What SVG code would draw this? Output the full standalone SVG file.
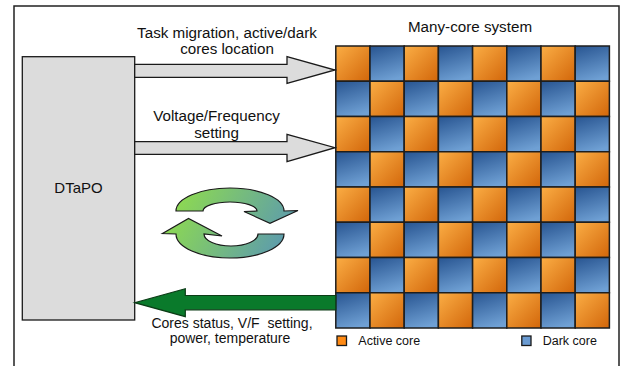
<svg xmlns="http://www.w3.org/2000/svg" width="621" height="366" viewBox="0 0 621 366">
<style>
text{font-family:"Liberation Sans",Arial,sans-serif;fill:#111;}
.t15{font-size:15.2px;text-anchor:middle;}
.t14{font-size:14px;text-anchor:middle;white-space:pre;}
.leg{font-size:12.5px;}
.o{fill:url(#gO);stroke:#1e1e1e;stroke-width:1.5;}
.b{fill:url(#gB);stroke:#1e1e1e;stroke-width:1.5;}
.gray{fill:#dcdcdc;stroke:#1a1a1a;stroke-width:1.3;}
</style>
<defs>
<linearGradient id="gO" x1="0" y1="0" x2="1" y2="1">
<stop offset="0" stop-color="#fbae45"/>
<stop offset="1" stop-color="#d2660a"/>
</linearGradient>
<linearGradient id="gB" x1="0.2" y1="0" x2="0.5" y2="1">
<stop offset="0" stop-color="#2b5894"/>
<stop offset="1" stop-color="#6fa0d4"/>
</linearGradient>
<linearGradient id="gC" gradientUnits="userSpaceOnUse" x1="180" y1="200" x2="285" y2="255">
<stop offset="0" stop-color="#8cd853"/>
<stop offset="1" stop-color="#5a98b2"/>
</linearGradient>
</defs>
<rect width="621" height="366" fill="#fff"/>
<path d="M14,366 V6 H619 V366" fill="none" stroke="#222" stroke-width="1.5"/>

<g id="dtapo">
<rect x="22.3" y="56.7" width="112.4" height="263.3" class="gray"/>
<text x="78.5" y="193.3" class="t15" style="font-size:15px">DTaPO</text>
</g>

<g id="manycore">
<text x="470" y="32.3" class="t15">Many-core system</text>
<g id="grid">
<rect class="o" x="335.8" y="46" width="34.2" height="35.25"/>
<rect class="b" x="370" y="46" width="34.2" height="35.25"/>
<rect class="o" x="404.2" y="46" width="34.2" height="35.25"/>
<rect class="b" x="438.4" y="46" width="34.2" height="35.25"/>
<rect class="o" x="472.6" y="46" width="34.2" height="35.25"/>
<rect class="b" x="506.8" y="46" width="34.2" height="35.25"/>
<rect class="o" x="541" y="46" width="34.2" height="35.25"/>
<rect class="b" x="575.2" y="46" width="34.2" height="35.25"/>

<rect class="b" x="335.8" y="81.25" width="34.2" height="35.25"/>
<rect class="o" x="370" y="81.25" width="34.2" height="35.25"/>
<rect class="b" x="404.2" y="81.25" width="34.2" height="35.25"/>
<rect class="o" x="438.4" y="81.25" width="34.2" height="35.25"/>
<rect class="b" x="472.6" y="81.25" width="34.2" height="35.25"/>
<rect class="o" x="506.8" y="81.25" width="34.2" height="35.25"/>
<rect class="b" x="541" y="81.25" width="34.2" height="35.25"/>
<rect class="o" x="575.2" y="81.25" width="34.2" height="35.25"/>

<rect class="o" x="335.8" y="116.5" width="34.2" height="35.25"/>
<rect class="b" x="370" y="116.5" width="34.2" height="35.25"/>
<rect class="o" x="404.2" y="116.5" width="34.2" height="35.25"/>
<rect class="b" x="438.4" y="116.5" width="34.2" height="35.25"/>
<rect class="o" x="472.6" y="116.5" width="34.2" height="35.25"/>
<rect class="b" x="506.8" y="116.5" width="34.2" height="35.25"/>
<rect class="o" x="541" y="116.5" width="34.2" height="35.25"/>
<rect class="b" x="575.2" y="116.5" width="34.2" height="35.25"/>

<rect class="b" x="335.8" y="151.75" width="34.2" height="35.25"/>
<rect class="o" x="370" y="151.75" width="34.2" height="35.25"/>
<rect class="b" x="404.2" y="151.75" width="34.2" height="35.25"/>
<rect class="o" x="438.4" y="151.75" width="34.2" height="35.25"/>
<rect class="b" x="472.6" y="151.75" width="34.2" height="35.25"/>
<rect class="o" x="506.8" y="151.75" width="34.2" height="35.25"/>
<rect class="b" x="541" y="151.75" width="34.2" height="35.25"/>
<rect class="o" x="575.2" y="151.75" width="34.2" height="35.25"/>

<rect class="o" x="335.8" y="187" width="34.2" height="35.25"/>
<rect class="b" x="370" y="187" width="34.2" height="35.25"/>
<rect class="o" x="404.2" y="187" width="34.2" height="35.25"/>
<rect class="b" x="438.4" y="187" width="34.2" height="35.25"/>
<rect class="o" x="472.6" y="187" width="34.2" height="35.25"/>
<rect class="b" x="506.8" y="187" width="34.2" height="35.25"/>
<rect class="o" x="541" y="187" width="34.2" height="35.25"/>
<rect class="b" x="575.2" y="187" width="34.2" height="35.25"/>

<rect class="b" x="335.8" y="222.25" width="34.2" height="35.25"/>
<rect class="o" x="370" y="222.25" width="34.2" height="35.25"/>
<rect class="b" x="404.2" y="222.25" width="34.2" height="35.25"/>
<rect class="o" x="438.4" y="222.25" width="34.2" height="35.25"/>
<rect class="b" x="472.6" y="222.25" width="34.2" height="35.25"/>
<rect class="o" x="506.8" y="222.25" width="34.2" height="35.25"/>
<rect class="b" x="541" y="222.25" width="34.2" height="35.25"/>
<rect class="o" x="575.2" y="222.25" width="34.2" height="35.25"/>

<rect class="o" x="335.8" y="257.5" width="34.2" height="35.25"/>
<rect class="b" x="370" y="257.5" width="34.2" height="35.25"/>
<rect class="o" x="404.2" y="257.5" width="34.2" height="35.25"/>
<rect class="b" x="438.4" y="257.5" width="34.2" height="35.25"/>
<rect class="o" x="472.6" y="257.5" width="34.2" height="35.25"/>
<rect class="b" x="506.8" y="257.5" width="34.2" height="35.25"/>
<rect class="o" x="541" y="257.5" width="34.2" height="35.25"/>
<rect class="b" x="575.2" y="257.5" width="34.2" height="35.25"/>

<rect class="b" x="335.8" y="292.75" width="34.2" height="35.25"/>
<rect class="o" x="370" y="292.75" width="34.2" height="35.25"/>
<rect class="b" x="404.2" y="292.75" width="34.2" height="35.25"/>
<rect class="o" x="438.4" y="292.75" width="34.2" height="35.25"/>
<rect class="b" x="472.6" y="292.75" width="34.2" height="35.25"/>
<rect class="o" x="506.8" y="292.75" width="34.2" height="35.25"/>
<rect class="b" x="541" y="292.75" width="34.2" height="35.25"/>
<rect class="o" x="575.2" y="292.75" width="34.2" height="35.25"/>
</g>
</g>

<g id="legend">
<rect x="337" y="336" width="9.5" height="9.5" fill="#ff8a14" stroke="#1a1a1a" stroke-width="1.3"/>
<text x="358.3" y="345.3" class="leg">Active core</text>
<rect x="521.8" y="336" width="9.2" height="9.5" fill="#6a9bd2" stroke="#1a1a1a" stroke-width="1.3"/>
<text x="542.7" y="345.3" class="leg">Dark core</text>
</g>

<g id="cycle">
<path d="M176,211 A54,23 0 0 1 284,211 L298,210.5 L270,223.3 L244,211.5 L257,211 A27,9 0 0 0 203,211 Z" fill="url(#gC)" stroke="#1a1a1a" stroke-width="1.2"/>
<path d="M284,234 A54,24 0 0 1 176,234 L162.5,233.5 L188.5,218.5 L222,236 L204,234 A27,12 0 0 0 258,234 Z" fill="url(#gC)" stroke="#1a1a1a" stroke-width="1.2"/>
</g>

<g id="connectors">
<polygon class="gray" points="134.7,64.3 287,64.3 287,56.7 335,70 287,83.3 287,77.3 134.7,77.3"/>
<polygon class="gray" points="134.7,141.7 287,141.7 287,134.3 335,147.7 287,161.7 287,154.3 134.7,154.3"/>
<polygon points="335.8,295.5 185.3,295.5 185.3,288.7 134.7,302.7 185.3,316.7 185.3,309.8 335.8,309.8" fill="#0a7a2b" stroke="#0c3d17" stroke-width="1.2"/>
</g>

<g id="labels">
<text x="227" y="37.6" class="t15">Task migration, active/dark</text>
<text x="227" y="54.4" class="t15">cores location</text>
<text x="216.5" y="121" class="t15">Voltage/Frequency</text>
<text x="216.5" y="137.6" class="t15">setting</text>
<text x="232" y="327.6" class="t14">Cores status, V/F  setting,</text>
<text x="230" y="343.2" class="t14">power, temperature</text>
</g>
</svg>
